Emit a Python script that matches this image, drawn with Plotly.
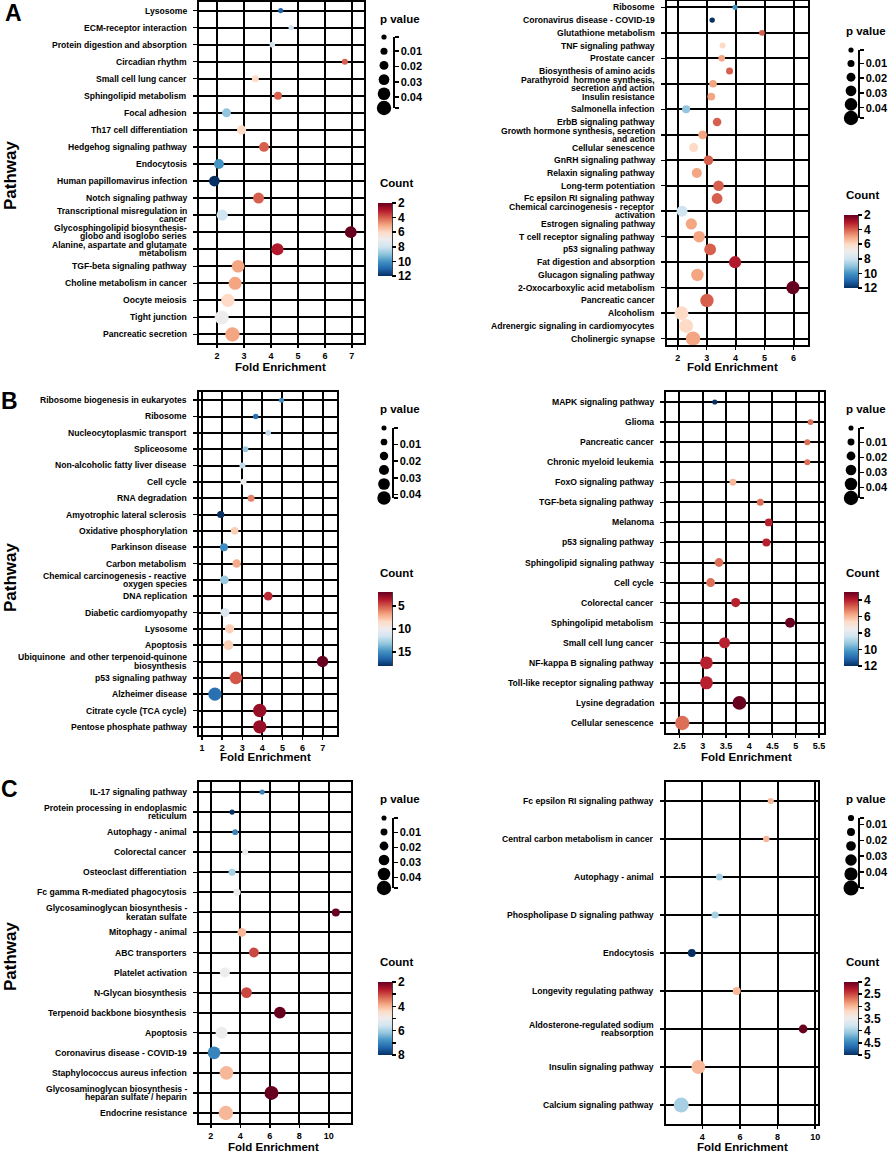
import plotly.graph_objects as go

W, H = 892, 1153

# ======================= DATA =======================
# Panel A (left)
a1_pathway = ["Lysosome", "ECM-receptor interaction", "Protein digestion and absorption",
              "Circadian rhythm", "Small cell lung cancer", "Sphingolipid metabolism",
              "Focal adhesion", "Th17 cell differentiation", "Hedgehog signaling pathway",
              "Endocytosis", "Human papillomavirus infection", "Notch signaling pathway",
              "Transcriptional misregulation in<br>cancer",
              "Glycosphingolipid biosynthesis-<br>globo and isoglobo series",
              "Alanine, aspartate and glutamate<br>metabolism", "TGF-beta signaling pathway",
              "Choline metabolism in cancer", "Oocyte meiosis", "Tight junction",
              "Pancreatic secretion"]
a1_fold = [4.36, 4.75, 4.05, 6.74, 3.42, 4.26, 2.35, 2.91, 3.74, 2.07, 1.90, 3.54, 2.19,
           6.96, 4.24, 2.78, 2.67, 2.40, 2.17, 2.57]
a1_p = [0.001, 0.002, 0.003, 0.005, 0.010, 0.015, 0.020, 0.021, 0.024, 0.025, 0.029, 0.030,
        0.031, 0.034, 0.036, 0.038, 0.040, 0.042, 0.045, 0.047]
a1_count = [11, 8, 8, 4, 6, 4, 9, 6, 4, 10, 12, 4, 8, 2, 3, 5, 5, 6, 7, 5]

# Panel A (right)
a2_pathway = ["Ribosome", "Coronavirus disease - COVID-19", "Glutathione metabolism",
              "TNF signaling pathway", "Prostate cancer", "Biosynthesis of amino acids",
              "Parathyroid  hormone synthesis,<br>secretion and action", "Insulin resistance",
              "Salmonella infection", "ErbB signaling pathway",
              "Growth hormone synthesis, secretion<br>and action", "Cellular senescence",
              "GnRH signaling pathway", "Relaxin signaling pathway", "Long-term potentiation",
              "Fc epsilon RI signaling pathway", "Chemical carcinogenesis - receptor<br>activation",
              "Estrogen signaling pathway", "T cell receptor signaling pathway",
              "p53 signaling pathway", "Fat digestion and absorption",
              "Glucagon signaling pathway", "2-Oxocarboxylic acid metabolism",
              "Pancreatic cancer", "Alcoholism", "Adrenergic signaling in cardiomyocytes",
              "Cholinergic synapse"]
a2_fold = [3.98, 3.19, 4.91, 3.55, 3.52, 3.79, 3.22, 3.16, 2.29, 3.36, 2.86, 2.55, 3.06, 2.66,
           3.41, 3.36, 2.15, 2.47, 2.74, 3.12, 3.98, 2.68, 5.98, 3.01, 2.13, 2.29, 2.53]
a2_p = [0.001, 0.002, 0.004, 0.005, 0.008, 0.010, 0.013, 0.014, 0.015, 0.018, 0.019, 0.020,
        0.023, 0.025, 0.028, 0.029, 0.030, 0.031, 0.033, 0.034, 0.036, 0.037, 0.041, 0.042,
        0.044, 0.045, 0.047]
a2_count = [10, 12, 4, 6, 5, 4, 5, 5, 9, 4, 5, 6, 4, 5, 4, 4, 8, 5, 5, 4, 3, 5, 2, 4, 6, 6, 5]

# Panel B (left)
b1_pathway = ["Ribosome biogenesis in eukaryotes", "Ribosome", "Nucleocytoplasmic transport",
              "Spliceosome", "Non-alcoholic fatty liver disease", "Cell cycle",
              "RNA degradation", "Amyotrophic lateral sclerosis", "Oxidative phosphorylation",
              "Parkinson disease", "Carbon metabolism",
              "Chemical carcinogenesis - reactive<br>oxygen species", "DNA replication",
              "Diabetic cardiomyopathy", "Lysosome", "Apoptosis",
              "Ubiquinone  and other terpenoid-quinone<br>biosynthesis", "p53 signaling pathway",
              "Alzheimer disease", "Citrate cycle (TCA cycle)", "Pentose phosphate pathway"]
b1_fold = [4.95, 3.67, 4.29, 3.16, 3.01, 3.06, 3.44, 1.93, 2.62, 2.09, 2.72, 2.11, 4.29, 2.14,
           2.37, 2.31, 6.99, 2.68, 1.64, 3.87, 3.87]
b1_p = [0.0003, 0.002, 0.003, 0.004, 0.005, 0.006, 0.010, 0.011, 0.013, 0.015, 0.017, 0.019,
        0.019, 0.020, 0.021, 0.024, 0.032, 0.038, 0.041, 0.042, 0.042]
b1_count = [15, 16, 12, 13, 12, 10, 6, 18, 8, 15, 7, 13, 4, 11, 8, 8, 2, 5, 16, 3, 3]

# Panel B (right)
b2_pathway = ["MAPK signaling pathway", "Glioma", "Pancreatic cancer", "Chronic myeloid leukemia",
              "FoxO signaling pathway", "TGF-beta signaling pathway", "Melanoma",
              "p53 signaling pathway", "Sphingolipid signaling pathway", "Cell cycle",
              "Colorectal cancer", "Sphingolipid metabolism", "Small cell lung cancer",
              "NF-kappa B signaling pathway", "Toll-like receptor signaling pathway",
              "Lysine degradation", "Cellular senescence"]
b2_fold = [3.26, 5.32, 5.25, 5.25, 3.65, 4.24, 4.42, 4.37, 3.35, 3.17, 3.71, 4.88, 3.47, 3.08,
           3.08, 3.79, 2.56]
b2_p = [0.0005, 0.004, 0.005, 0.005, 0.009, 0.010, 0.014, 0.015, 0.019, 0.020, 0.021, 0.025,
        0.030, 0.039, 0.040, 0.044, 0.047]
b2_count = [12, 5, 5, 5, 6, 5, 4, 4, 5, 5, 4, 3, 4, 4, 4, 3, 5]

# Panel C (left)
c1_pathway = ["IL-17 signaling pathway", "Protein processing in endoplasmic<br>reticulum",
              "Autophagy - animal", "Colorectal cancer", "Osteoclast differentiation",
              "Fc gamma R-mediated phagocytosis",
              "Glycosaminoglycan biosynthesis -<br>keratan sulfate", "Mitophagy - animal",
              "ABC transporters", "Platelet activation", "N-Glycan biosynthesis",
              "Terpenoid backbone biosynthesis", "Apoptosis", "Coronavirus disease - COVID-19",
              "Staphylococcus aureus infection",
              "Glycosaminoglycan biosynthesis -<br>heparan sulfate / heparin",
              "Endocrine resistance"]
c1_fold = [5.48, 3.44, 3.65, 4.33, 3.44, 3.78, 10.47, 4.10, 4.92, 2.95, 4.42, 6.68, 2.73, 2.22,
           3.06, 6.11, 3.02]
c1_p = [0.0005, 0.001, 0.004, 0.005, 0.010, 0.011, 0.015, 0.019, 0.024, 0.025, 0.029, 0.034,
        0.035, 0.039, 0.044, 0.045, 0.047]
c1_count = [7, 8, 7, 5, 6, 5, 2, 4, 3, 5, 3, 2, 5, 7, 4, 2, 4]

# Panel C (right)
c2_pathway = ["Fc epsilon RI signaling pathway", "Central carbon metabolism in cancer",
              "Autophagy - animal", "Phospholipase D signaling pathway", "Endocytosis",
              "Longevity regulating pathway", "Aldosterone-regulated sodium<br>reabsorption",
              "Insulin signaling pathway", "Calcium signaling pathway"]
c2_fold = [7.64, 7.40, 4.91, 4.68, 3.44, 5.83, 9.36, 3.79, 2.88]
c2_p = [0.006, 0.007, 0.010, 0.011, 0.014, 0.015, 0.019, 0.044, 0.050]
c2_count = [3, 3, 4, 4, 5, 3, 2, 3, 4]

# legend tick labels
p_ticks = [0.01, 0.02, 0.03, 0.04]

# ======================= STYLE / LAYOUT =======================
FONT = "Liberation Sans, Arial, Helvetica, sans-serif"
# RdBu-like diverging scale, running blue (high count) -> red (low count)
SCALE = [[0.0, "rgb(5,48,97)"], [0.1, "rgb(33,102,172)"], [0.2, "rgb(67,147,195)"],
         [0.3, "rgb(146,197,222)"], [0.4, "rgb(209,229,240)"], [0.5, "rgb(238,236,237)"],
         [0.6, "rgb(253,219,199)"], [0.7, "rgb(244,165,130)"], [0.8, "rgb(214,96,77)"],
         [0.9, "rgb(178,24,43)"], [1.0, "rgb(103,0,31)"]]
LABEL_SIZE = 8.6
LABEL_OFFSET = 10   # px from plot edge to label end


def size_of(p):
    return 5 + 200 * p


panels = [
    dict(path=a1_pathway, fold=a1_fold, p=a1_p, count=a1_count, gap=8.0,
         box=(199, 2, 364, 343), xrange=(1.33, 7.45), xticks=[2, 3, 4, 5, 6, 7],
         crange=(2, 12), cticks=[2, 4, 6, 8, 10, 12], clabels=None, cb=(378, 203, 73),
         leg=(384, 393, 37, 108), ptitle=(378, 19), ctitle=(378, 183), xtitle=(280, 367)),
    dict(path=a2_pathway, fold=a2_fold, p=a2_p, count=a2_count, gap=7.8,
         box=(667, 1, 808, 345), xrange=(1.63, 6.5), xticks=[2, 3, 4, 5, 6],
         crange=(2, 12), cticks=[2, 4, 6, 8, 10, 12], clabels=None, cb=(844, 215, 73),
         leg=(851, 858, 50, 118), ptitle=(844, 31), ctitle=(844, 195), xtitle=(732, 367)),
    dict(path=b1_pathway, fold=b1_fold, p=b1_p, count=b1_count, gap=8.4,
         box=(199, 392, 337, 735), xrange=(0.85, 7.71), xticks=[1, 2, 3, 4, 5, 6, 7],
         crange=(2, 18), cticks=[5, 10, 15], clabels=None, cb=(378, 592, 74),
         leg=(384, 392, 428, 498), ptitle=(378, 409), ctitle=(378, 573), xtitle=(265, 757)),
    dict(path=b2_pathway, fold=b2_fold, p=b2_p, count=b2_count, gap=8.4,
         box=(666, 392, 824, 733), xrange=(2.21, 5.61), xticks=[2.5, 3, 3.5, 4, 4.5, 5, 5.5],
         crange=(3, 12), cticks=[4, 6, 8, 10, 12], clabels=None, cb=(844, 592, 74),
         leg=(851, 858, 428, 498), ptitle=(844, 409), ctitle=(844, 573), xtitle=(746, 757)),
    dict(path=c1_pathway, fold=c1_fold, p=c1_p, count=c1_count, gap=8.6,
         box=(199, 782, 351, 1123), xrange=(1.2, 11.5), xticks=[2, 4, 6, 8, 10],
         crange=(2, 8), cticks=[2, 3, 4, 5, 6, 7, 8], clabels=["2", "", "4", "", "6", "", "8"],
         cb=(378, 982, 73),
         leg=(384, 392, 818, 888), ptitle=(378, 799), ctitle=(378, 962), xtitle=(273, 1147)),
    dict(path=c2_pathway, fold=c2_fold, p=c2_p, count=c2_count, gap=8.6,
         box=(666, 782, 818, 1124), xrange=(2.07, 10.15), xticks=[4, 6, 8, 10],
         crange=(2, 5), cticks=[2, 2.5, 3, 3.5, 4, 4.5, 5],
         clabels=["2", "2.5", "3", "3.5", "4", "4.5", "5"], cb=(844, 982, 73),
         leg=(851, 858, 818, 888), ptitle=(844, 799), ctitle=(844, 962), xtitle=(742, 1147)),
]

letters = [("A", 13, 13), ("B", 9, 401), ("C", 9, 789)]
pathway_titles = [(10, 175), (10, 577), (10, 956)]


def fx(px):
    return px / W


def fy(py):
    return 1 - py / H


fig = go.Figure()
layout = dict(width=W, height=H, margin=dict(l=0, r=0, t=0, b=0),
              paper_bgcolor="white", plot_bgcolor="white", showlegend=False,
              font=dict(family=FONT, color="black"), template="none")
annotations = []
shapes = []

for i, P in enumerate(panels):
    k = i + 1
    sfx = "" if k == 1 else str(k)
    xa, ya, ca = "x" + sfx, "y" + sfx, "coloraxis" + sfx
    x0, y0, x1, y1 = P["box"]
    n = len(P["path"])

    fig.add_trace(go.Scatter(
        x=P["fold"], y=P["path"], mode="markers", xaxis=xa, yaxis=ya,
        marker=dict(size=[size_of(v) for v in P["p"]], color=[-c for c in P["count"]],
                    coloraxis=ca, line=dict(width=0), opacity=1),
        cliponaxis=False, hoverinfo="skip"))

    layout["xaxis" + sfx] = dict(
        domain=[fx(x0), fx(x1)], range=list(P["xrange"]), anchor=ya, tickvals=P["xticks"],
        showgrid=True, gridcolor="black", gridwidth=2, showline=True, mirror=True,
        linecolor="black", linewidth=2, ticks="outside", ticklen=3, tickwidth=1.5,
        tickcolor="black", tickfont=dict(family=FONT, size=9, weight="bold"),
        zeroline=False, fixedrange=True, automargin=False)
    layout["yaxis" + sfx] = dict(
        domain=[fy(y1), fy(y0)], anchor=xa, type="category", categoryorder="array",
        categoryarray=P["path"], range=[n - 0.5, -0.5],
        showgrid=True, gridcolor="black", gridwidth=2, showline=True, mirror=True,
        linecolor="black", linewidth=2, ticks="outside", ticklen=4, tickwidth=1.5,
        tickcolor="black", showticklabels=False, zeroline=False, fixedrange=True,
        automargin=False)

    # pathway labels (wrapped ones with tight line spacing)
    for idx, name in enumerate(P["path"]):
        lines = name.split("<br>")
        m = len(lines)
        for j, line in enumerate(lines):
            annotations.append(dict(
                text=line, x=0, xref=xa + " domain", y=idx, yref=ya,
                xanchor="right", yanchor="middle", xshift=-LABEL_OFFSET,
                yshift=((m - 1) / 2 - j) * P["gap"], showarrow=False,
                font=dict(family=FONT, size=LABEL_SIZE, weight="bold")))

    lo, hi = P["crange"]
    cbx, cbt, cbl = P["cb"]
    labels = P["clabels"] if P["clabels"] else [str(v) for v in P["cticks"]]
    layout[ca] = dict(
        cmin=-hi, cmax=-lo, colorscale=SCALE,
        colorbar=dict(x=fx(cbx), xanchor="left", y=fy(cbt), yanchor="top",
                      len=cbl, lenmode="pixels", thickness=14, thicknessmode="pixels",
                      xpad=0, ypad=0, outlinewidth=0,
                      tickvals=[-v for v in P["cticks"]], ticktext=labels,
                      ticks="outside", ticklen=4, tickwidth=1.5, tickcolor="black",
                      tickfont=dict(family=FONT, size=12, weight="bold")))
    shapes.append(dict(type="line", xref="paper", yref="paper",
                       x0=fx(cbx + 14), x1=fx(cbx + 14), y0=fy(cbt), y1=fy(cbt + cbl),
                       line=dict(color="black", width=1.5)))

    # size legend (p value)
    kk = k + 6
    lsfx = str(kk)
    cx, lx, lt, lb = P["leg"]
    pmin, pmax = min(P["p"]), max(P["p"])
    leg_p = [pmin + (pmax - pmin) * j / 5 for j in range(6)]
    fig.add_trace(go.Scatter(
        x=[0] * 6, y=leg_p, mode="markers", xaxis="x" + lsfx, yaxis="y" + lsfx,
        marker=dict(size=[size_of(v) for v in leg_p], color="#000000", opacity=1,
                    line=dict(width=0)),
        cliponaxis=False, hoverinfo="skip"))
    layout["xaxis" + lsfx] = dict(domain=[fx(cx - (lx - cx)), fx(lx)], range=[-1, 1],
                                  visible=False, anchor="y" + lsfx, fixedrange=True)
    layout["yaxis" + lsfx] = dict(
        domain=[fy(lb), fy(lt)], range=[pmax, pmin], anchor="x" + lsfx, side="right",
        showgrid=False, zeroline=False, showline=True, linecolor="black", linewidth=1.5,
        ticks="outside", ticklen=4, tickwidth=1.5, tickcolor="black",
        tickvals=[pmin] + p_ticks + [pmax], ticktext=[""] + [f"{v:.2f}" for v in p_ticks] + [""],
        tickfont=dict(family=FONT, size=11, weight="bold"), fixedrange=True, automargin=False)

    # titles
    annotations.append(dict(text="p value", x=fx(P["ptitle"][0]), y=fy(P["ptitle"][1]),
                            xref="paper", yref="paper", xanchor="left", yanchor="middle",
                            showarrow=False, font=dict(family=FONT, size=11.5, weight="bold")))
    annotations.append(dict(text="Count", x=fx(P["ctitle"][0]), y=fy(P["ctitle"][1]),
                            xref="paper", yref="paper", xanchor="left", yanchor="middle",
                            showarrow=False, font=dict(family=FONT, size=11.5, weight="bold")))
    annotations.append(dict(text="Fold Enrichment", x=fx(P["xtitle"][0]), y=fy(P["xtitle"][1]),
                            xref="paper", yref="paper", xanchor="center", yanchor="middle",
                            showarrow=False, font=dict(family=FONT, size=11.5, weight="bold")))

for t, x, y in letters:
    annotations.append(dict(text=t, x=fx(x), y=fy(y), xref="paper", yref="paper",
                            xanchor="center", yanchor="middle", showarrow=False,
                            font=dict(family=FONT, size=23, weight="bold")))
for x, y in pathway_titles:
    annotations.append(dict(text="Pathway", x=fx(x), y=fy(y), xref="paper", yref="paper",
                            xanchor="center", yanchor="middle", textangle=-90, showarrow=False,
                            font=dict(family=FONT, size=17, weight="bold")))

layout["annotations"] = annotations
layout["shapes"] = shapes
fig.update_layout(**layout)
fig.write_html("out.html",
               config={"displayModeBar": False, "staticPlot": True},
               post_script="document.body.style.margin='0px';"
                           "document.body.style.overflow='hidden';")
